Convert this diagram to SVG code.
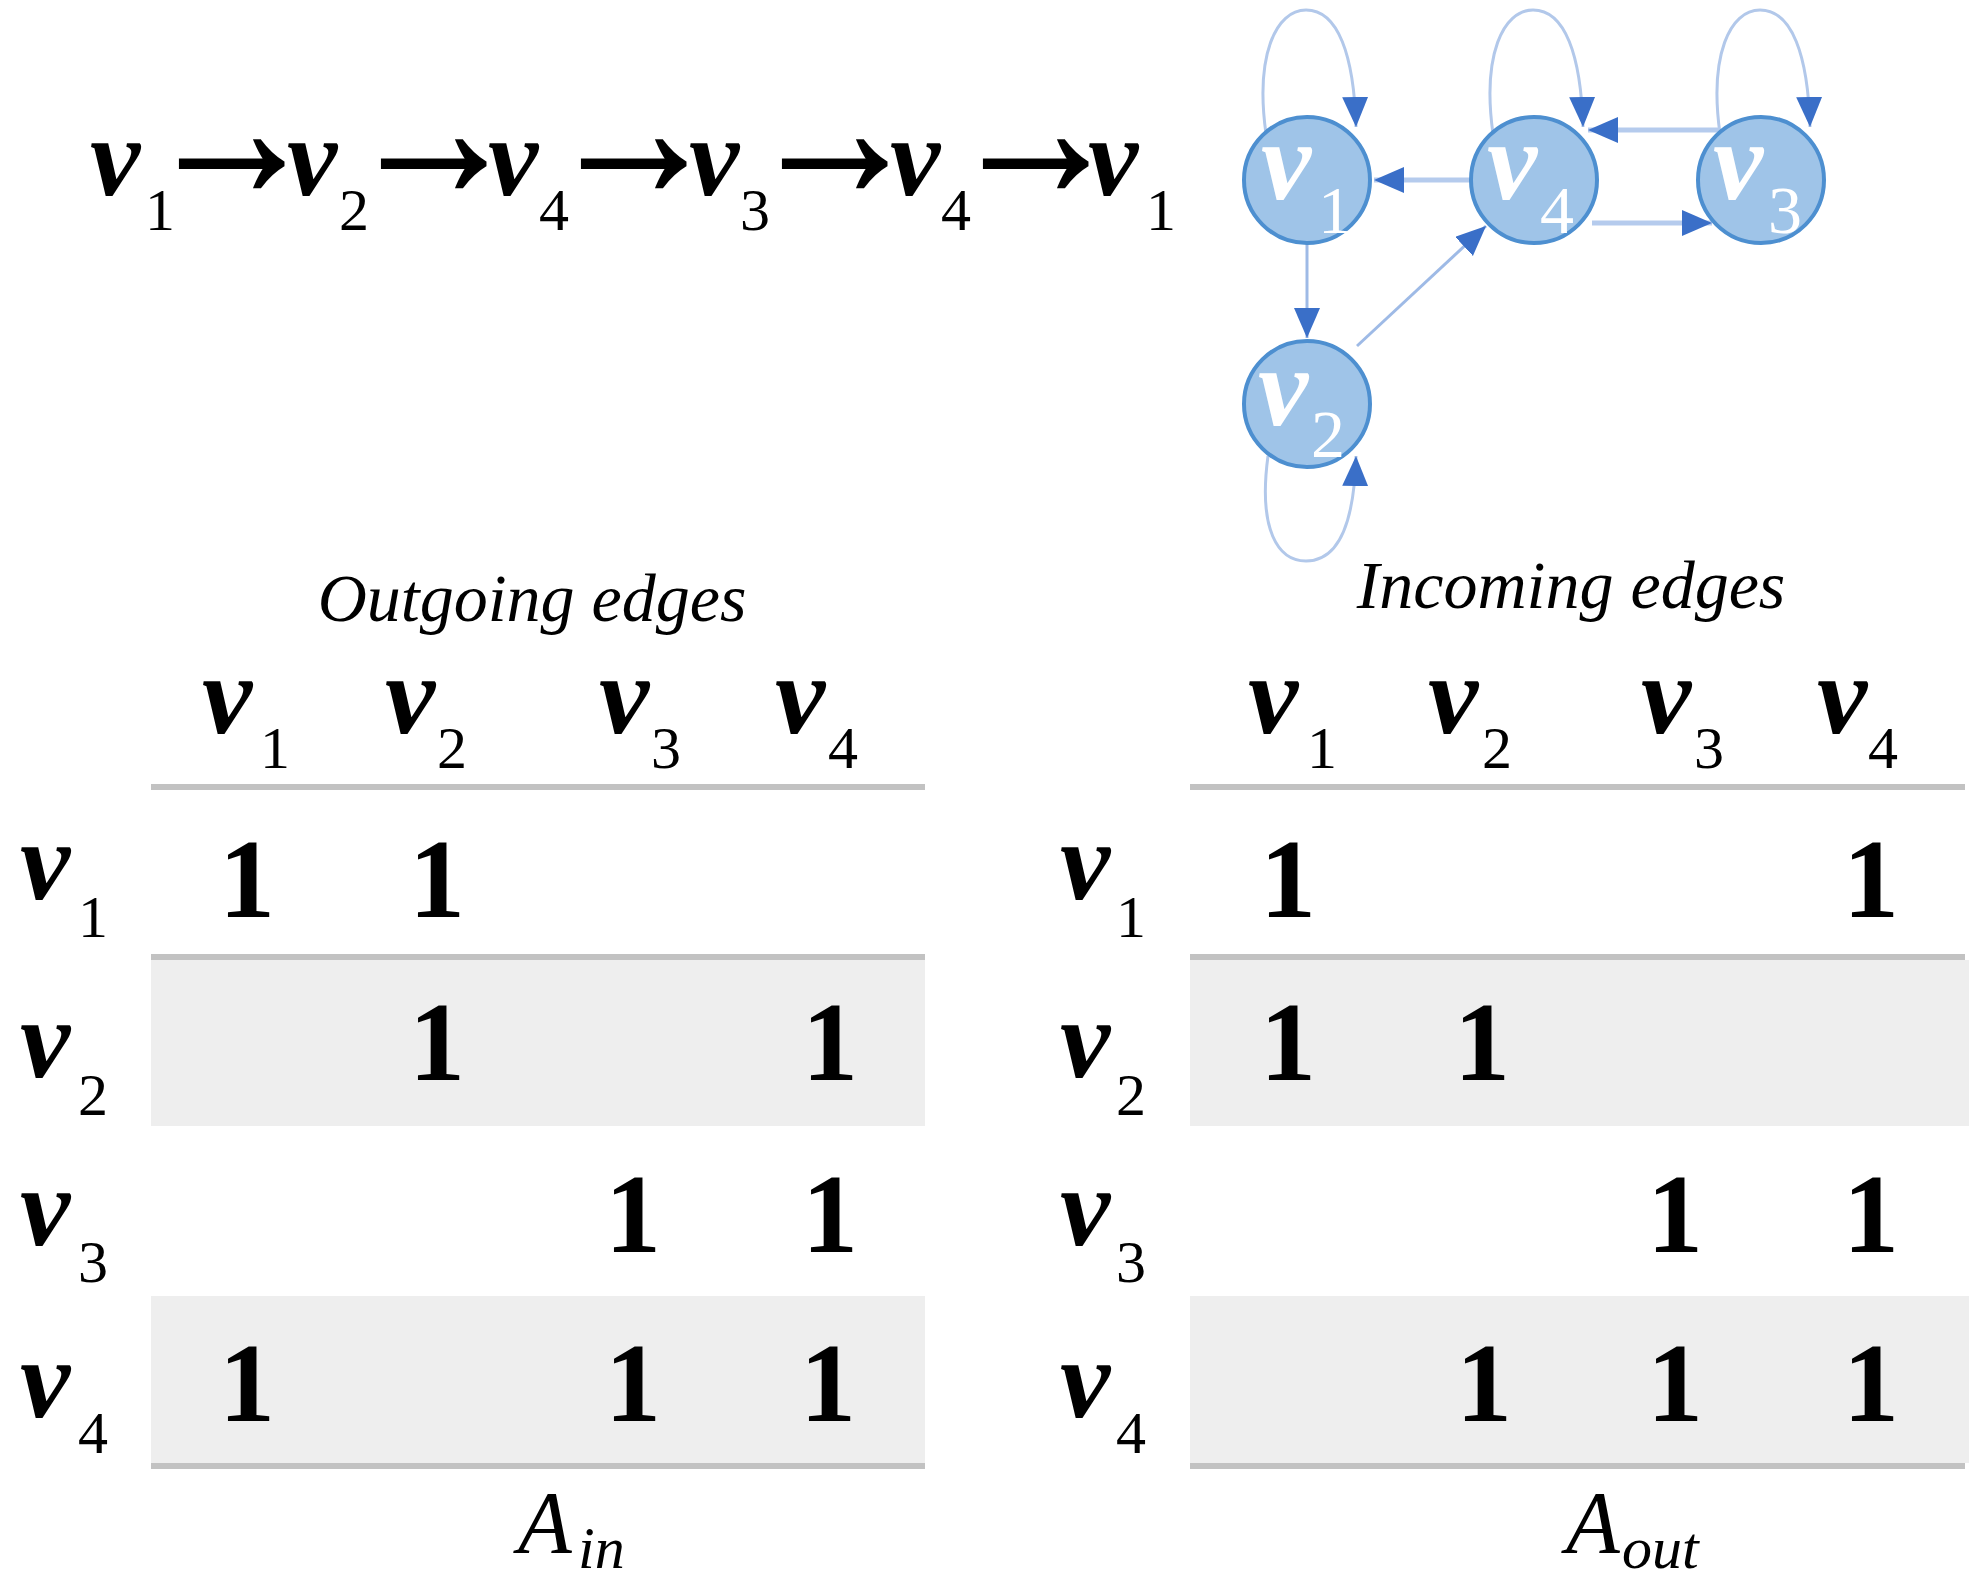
<svg xmlns="http://www.w3.org/2000/svg" width="1969" height="1580" viewBox="0 0 1969 1580">
<style>
.v{font-family:"Liberation Serif","Times New Roman",serif;font-style:italic;font-weight:bold;font-size:113px;fill:#000}
.s{font-family:"Liberation Serif","Times New Roman",serif;font-size:60px;fill:#000}
.arr{font-family:"Liberation Serif","Times New Roman",serif;font-weight:bold;font-size:200px;fill:#000;stroke:#000;stroke-width:2}
.one{font-family:"Liberation Serif","Times New Roman",serif;font-weight:bold;font-size:112px;text-anchor:middle;fill:#000}
.hdr{font-family:"Liberation Serif","Times New Roman",serif;font-style:italic;font-size:68px;text-anchor:middle;fill:#000}
.it{font-family:"Liberation Serif","Times New Roman",serif;font-style:italic;fill:#000}
.w{fill:#fff}
.ns{font-size:68px}
.node{fill:#9fc4e8;stroke:#4d8fd0;stroke-width:4}
.loop{fill:none;stroke:#b2c8ea;stroke-width:3}
.edge{fill:none;stroke:#b5cbed;stroke-width:5}
.edge2{fill:none;stroke:#9ebae6;stroke-width:3}
.rule{fill:#c2c2c2}
.band{fill:#eeeeee}
</style>
<defs>
<marker id="ah" markerUnits="userSpaceOnUse" markerWidth="32" markerHeight="28" refX="30" refY="13" orient="auto">
<path d="M0,0 L30,13 L0,26 z" fill="#3a6fc8"/>
</marker>
</defs>

<g id="sequence">
<text class="v" x="90" y="195">v</text><text class="s" x="145" y="230">1</text>
<text class="arr" transform="translate(144,197) scale(0.877,1)">→</text>
<text class="v" x="287" y="195">v</text><text class="s" x="339" y="230">2</text>
<text class="arr" transform="translate(346,197) scale(0.877,1)">→</text>
<text class="v" x="488" y="195">v</text><text class="s" x="539" y="230">4</text>
<text class="arr" transform="translate(546,197) scale(0.877,1)">→</text>
<text class="v" x="689" y="195">v</text><text class="s" x="740" y="230">3</text>
<text class="arr" transform="translate(747,197) scale(0.877,1)">→</text>
<text class="v" x="890" y="195">v</text><text class="s" x="941" y="230">4</text>
<text class="arr" transform="translate(948,197) scale(0.877,1)">→</text>
<text class="v" x="1088" y="195">v</text><text class="s" x="1146" y="230">1</text>
</g>

<g id="connectors">
<path class="loop" d="M1266,134 C1255,55 1276,10 1306,10 C1338,10 1354,55 1356,127" marker-end="url(#ah)"/>
<path class="loop" d="M1493,134 C1482,55 1503,10 1533,10 C1565,10 1581,55 1583,127" marker-end="url(#ah)"/>
<path class="loop" d="M1720,134 C1709,55 1730,10 1760,10 C1792,10 1808,55 1810,127" marker-end="url(#ah)"/>
<path class="loop" d="M1268,456 C1258,530 1278,561 1306,561 C1336,561 1354,530 1356,456" marker-end="url(#ah)"/>
<path class="edge" d="M1472,180 L1374,180" marker-end="url(#ah)"/>
<path class="edge" d="M1720,130 L1588,130" marker-end="url(#ah)"/>
<path class="edge" d="M1592,223 L1712,223" marker-end="url(#ah)"/>
<path class="edge2" d="M1307,244 L1307,338" marker-end="url(#ah)"/>
<path class="edge2" d="M1357,346 L1486,226" marker-end="url(#ah)"/>
</g>

<g id="node-v1">
<circle class="node" cx="1307" cy="180" r="63"/>
<text class="v w" x="1261" y="199">v</text><text class="s w ns" x="1318" y="233">1</text>
</g>
<g id="node-v4">
<circle class="node" cx="1534" cy="180" r="63"/>
<text class="v w" x="1487" y="199">v</text><text class="s w ns" x="1540" y="233">4</text>
</g>
<g id="node-v3">
<circle class="node" cx="1761" cy="180" r="63"/>
<text class="v w" x="1713" y="199">v</text><text class="s w ns" x="1768" y="233">3</text>
</g>
<g id="node-v2">
<circle class="node" cx="1307" cy="404" r="63"/>
<text class="v w" x="1258" y="425">v</text><text class="s w ns" x="1311" y="457">2</text>
</g>

<g id="table-in">
<rect class="band" x="151" y="960" width="774" height="166"/>
<rect class="band" x="151" y="1296" width="774" height="167"/>
<rect class="rule" x="151" y="784" width="774" height="6"/>
<rect class="rule" x="151" y="954" width="774" height="6"/>
<rect class="rule" x="151" y="1463" width="774" height="6"/>
<text class="hdr" x="532" y="621">Outgoing edges</text>
<text class="v" x="202" y="733">v</text><text class="s" x="260" y="768">1</text>
<text class="v" x="385" y="733">v</text><text class="s" x="437" y="768">2</text>
<text class="v" x="599" y="733">v</text><text class="s" x="651" y="768">3</text>
<text class="v" x="775" y="733">v</text><text class="s" x="828" y="768">4</text>
<text class="v" x="20" y="899">v</text><text class="s" x="78" y="937">1</text>
<text class="v" x="20" y="1077">v</text><text class="s" x="78" y="1115">2</text>
<text class="v" x="20" y="1245">v</text><text class="s" x="78" y="1282">3</text>
<text class="v" x="20" y="1417">v</text><text class="s" x="78" y="1453">4</text>
<text class="one" x="247" y="917">1</text><text class="one" x="437" y="917">1</text>
<text class="one" x="437" y="1080">1</text><text class="one" x="830" y="1080">1</text>
<text class="one" x="633" y="1252">1</text><text class="one" x="830" y="1252">1</text>
<text class="one" x="247" y="1421">1</text><text class="one" x="633" y="1421">1</text><text class="one" x="828" y="1421">1</text>
<text class="it" x="518" y="1552" font-size="88">A</text><text class="it" x="578" y="1568" font-size="60">in</text>
</g>

<g id="table-out">
<rect class="band" x="1190" y="960" width="779" height="166"/>
<rect class="band" x="1190" y="1296" width="779" height="167"/>
<rect class="rule" x="1190" y="784" width="775" height="6"/>
<rect class="rule" x="1190" y="954" width="775" height="6"/>
<rect class="rule" x="1190" y="1463" width="775" height="6"/>
<text class="hdr" x="1571" y="608">Incoming edges</text>
<text class="v" x="1248" y="733">v</text><text class="s" x="1307" y="768">1</text>
<text class="v" x="1428" y="733">v</text><text class="s" x="1482" y="768">2</text>
<text class="v" x="1641" y="733">v</text><text class="s" x="1694" y="768">3</text>
<text class="v" x="1817" y="733">v</text><text class="s" x="1868" y="768">4</text>
<text class="v" x="1060" y="899">v</text><text class="s" x="1116" y="937">1</text>
<text class="v" x="1060" y="1077">v</text><text class="s" x="1116" y="1115">2</text>
<text class="v" x="1060" y="1245">v</text><text class="s" x="1116" y="1282">3</text>
<text class="v" x="1060" y="1417">v</text><text class="s" x="1116" y="1453">4</text>
<text class="one" x="1288" y="917">1</text><text class="one" x="1871" y="917">1</text>
<text class="one" x="1288" y="1080">1</text><text class="one" x="1482" y="1080">1</text>
<text class="one" x="1675" y="1252">1</text><text class="one" x="1871" y="1252">1</text>
<text class="one" x="1484" y="1421">1</text><text class="one" x="1675" y="1421">1</text><text class="one" x="1871" y="1421">1</text>
<text class="it" x="1566" y="1552" font-size="88">A</text><text class="it" x="1622" y="1568" font-size="60">out</text>
</g>
</svg>
